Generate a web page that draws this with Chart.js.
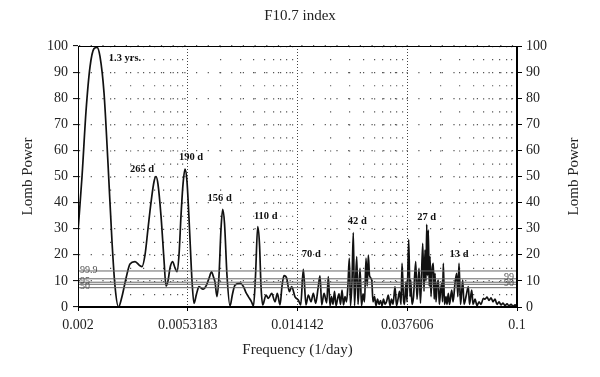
<!DOCTYPE html>
<html>
<head>
<meta charset="utf-8">
<script src="https://cdn.jsdelivr.net/npm/chart.js@4.4.0/dist/chart.umd.min.js"></script>
<style>
  html, body { margin: 0; padding: 0; background: #fff; }
</style>
</head>
<body>
<canvas id="chart" width="600" height="377"></canvas>
<script>
// frequency (1/day) and Lomb power
const freq = [
  0.002, 0.002073, 0.002148, 0.002226, 0.002306, 0.002369, 0.002433, 0.002522, 0.002613, 0.002708,
  0.002781, 0.002869, 0.002960, 0.003068, 0.003179, 0.003324, 0.003475, 0.003538, 0.003634, 0.003732,
  0.003833, 0.003937, 0.004008, 0.004080, 0.004190, 0.004304, 0.004382, 0.004460, 0.004541, 0.004643,
  0.004748, 0.004833, 0.004920, 0.005008, 0.005098, 0.005190, 0.005283, 0.005402, 0.005524, 0.005623,
  0.005750, 0.005879, 0.006093, 0.006286, 0.006428, 0.006572, 0.006690, 0.006781, 0.006902, 0.007026,
  0.007153, 0.007262, 0.007380, 0.007546, 0.007750, 0.007925, 0.008103, 0.008473, 0.008741, 0.008938,
  0.009139, 0.009387, 0.009556, 0.009728, 0.009920, 0.010081, 0.010216, 0.010372, 0.010681, 0.010903,
  0.011238, 0.011574, 0.011813, 0.012101, 0.012319, 0.012540, 0.012846, 0.013147, 0.013431, 0.013832,
  0.014245, 0.014552, 0.014894, 0.015256, 0.015572, 0.015951, 0.016282, 0.016634, 0.016978, 0.017284,
  0.017548, 0.017911, 0.018347, 0.018611, 0.018895, 0.019149, 0.019407, 0.019668, 0.019933, 0.020201,
  0.020473, 0.020748, 0.021028, 0.021310, 0.021597, 0.021888, 0.022183, 0.022441, 0.022682, 0.022987,
  0.023256, 0.023505, 0.023971, 0.024250, 0.024686, 0.025018, 0.025356, 0.025696, 0.026043, 0.026322,
  0.026582, 0.026867, 0.027399, 0.027718, 0.028092, 0.028470, 0.028853, 0.029241, 0.029635, 0.030033,
  0.030438, 0.030847, 0.031262, 0.031768, 0.032253, 0.032687, 0.033127, 0.033722, 0.034177, 0.034636,
  0.035103, 0.035574, 0.035893, 0.036376, 0.036701, 0.037195, 0.037527, 0.038100, 0.038546, 0.038786,
  0.039238, 0.039767, 0.040554, 0.041026, 0.041763, 0.042327, 0.043164, 0.043667, 0.044058, 0.044452,
  0.044730, 0.045051, 0.045373, 0.045738, 0.046065, 0.046477, 0.046893, 0.047441, 0.047822, 0.048165,
  0.048595, 0.049030, 0.049602, 0.050046, 0.050584, 0.051128, 0.051493, 0.051862, 0.052418, 0.053125,
  0.053600, 0.054226, 0.054809, 0.055894, 0.056545, 0.057562, 0.058441, 0.059016, 0.059650, 0.060454,
  0.060995, 0.061649, 0.062368, 0.063490, 0.064806, 0.065502, 0.066799, 0.067577, 0.068792, 0.070029,
  0.071288, 0.072570, 0.074073, 0.075204, 0.076556, 0.077933, 0.079334, 0.080761, 0.082213, 0.083693,
  0.085196, 0.086728, 0.088287, 0.089876, 0.091492, 0.093137, 0.094812, 0.096517, 0.098253, 0.1
];
const power = [
  29, 50, 75, 92, 99, 99.5, 96, 82, 55, 25,
  8, 0, 4, 11, 16.5, 17.4, 15.8, 15.5, 20, 30,
  40, 48, 50, 47, 35, 18, 8, 10, 15, 17.4,
  15, 13.5, 20, 35, 47, 52.8, 48, 30, 10, 1.4,
  5, 7.8, 6.8, 8.4, 11, 13.5, 11.5, 9.5, 4, 12,
  30, 37.4, 32, 12, 0.4, 5, 8.4, 9.1, 7.8, 5.5,
  3.9, 2, 0.4, 12, 30.8, 24, 8, 0.8, 4.6, 3.3,
  5.2, 2, 5.2, 0.8, 8, 12, 11, 5.9, 7.8, 3.9,
  2.7, 0.8, 14.4, 0.8, 4.6, 2, 5.2, 1.4, 7, 11.9,
  0.8, 5.2, 1.6, 11.6, 0.5, 4, 1, 6, 0.5, 3,
  5, 1, 6.5, 0.8, 4, 2, 9, 18.7, 0.5, 10,
  28.5, 0.5, 19.3, 1, 14.8, 0.5, 5, 2, 18.7, 8,
  19.9, 12, 10.3, 2, 4, 0.5, 3, 1, 2.5, 0.5,
  3, 1, 2, 4.6, 0.5, 3, 1, 7.8, 0.5, 3,
  6, 1, 16.7, 3, 1, 9.7, 2, 25.9, 4, 10.3,
  1, 4, 17.4, 3, 14.8, 1.5, 24.4, 6, 21.8, 10,
  31.7, 12, 29.5, 8, 19.3, 4, 14, 16.7, 3, 12.9,
  2, 8, 10.3, 1, 6, 9.1, 2, 16.7, 1, 4,
  1, 5.2, 1, 6.5, 2, 9.1, 12.9, 4, 16.7, 1,
  5, 10.3, 1, 4, 7.8, 1, 6.5, 1, 3, 0.5,
  2, 1, 3.3, 3, 3.8, 2.5, 3.5, 2, 3, 1,
  2, 0.8, 1.5, 0.5, 1.2, 0.4, 1, 0.3, 0.8, 0.2
];

const xMajor = [0.002, 0.0053183, 0.014142, 0.037606, 0.1];
const xTickLabels = ['0.002', '0.0053183', '0.014142', '0.037606', '0.1'];

// significance levels (%) and their power thresholds
const sigLevel = [13.8, 10.8, 9.5, 8.7, 7.4];
const sigText = ['99.9', '99', '95', '90', '50'];
const sigSide = ['left', 'right', 'left', 'right', 'left'];

// labelled peaks
const peakText = ['1.3 yrs.', '265 d', '190 d', '156 d', '110 d', '70 d', '42 d', '27 d', '13 d'];
const peakFreq = [0.002369, 0.004008, 0.005190, 0.007262, 0.009920, 0.014894, 0.023256, 0.044730, 0.059650];
const peakPower = [99.5, 50, 52.8, 37.4, 30.8, 14.4, 28.5, 31.7, 16.7];

const FONT = "'Liberation Serif', 'DejaVu Serif', serif";
const labelShift = [[28, 11], [-14, -7], [6, -12], [-3, -11], [8, -10], [8, -15], [4, -11], [0, -7], [0, -9]];

const extras = {
    id: 'extras',
    afterDatasetsDraw(chart) {
        const {ctx, chartArea: a, scales: {x, y}} = chart;
        ctx.save();

        ctx.font = `10px ${FONT}`;
        ctx.fillStyle = '#555';
        ctx.textBaseline = 'middle';
        sigLevel.forEach((v, i) => {
            const py = y.getPixelForValue(v) - 1;
            if (sigSide[i] === 'left') {
                ctx.textAlign = 'left';
                ctx.fillText(sigText[i], a.left + 2, py);
            } else {
                ctx.textAlign = 'right';
                ctx.fillText(sigText[i], a.right - 3, py);
            }
        });

        ctx.font = `bold 10.5px ${FONT}`;
        ctx.fillStyle = '#111';
        ctx.textAlign = 'center';
        peakText.forEach((t, i) => {
            const [dx, dy] = labelShift[i];
            ctx.fillText(t, x.getPixelForValue(peakFreq[i]) + dx, y.getPixelForValue(peakPower[i]) + dy);
        });

        // plot frame
        ctx.strokeStyle = '#000';
        ctx.lineWidth = 1;
        ctx.strokeRect(Math.round(a.left) + 0.5, Math.round(a.top) + 0.5,
            Math.round(a.right - a.left) - 1, Math.round(a.bottom - a.top) - 1);

        // right axis title
        ctx.translate(chart.width - 26, (a.top + a.bottom) / 2);
        ctx.rotate(-Math.PI / 2);
        ctx.font = `15px ${FONT}`;
        ctx.fillStyle = '#222';
        ctx.textAlign = 'center';
        ctx.fillText('Lomb Power', 0, 0);
        ctx.restore();
    }
};

const sigSets = sigLevel.map(v => ({
    data: [{x: xMajor[0], y: v}, {x: xMajor[xMajor.length - 1], y: v}],
    borderColor: '#666',
    borderWidth: 1,
    pointRadius: 0,
    xAxisID: 'x',
    yAxisID: 'y'
}));

new Chart(document.getElementById('chart').getContext('2d'), {
    type: 'line',
    data: {
        datasets: [
            ...sigSets,
            {
                data: freq.map((f, i) => ({x: f, y: power[i]})),
                borderColor: '#111',
                borderWidth: 1.7,
                pointRadius: 0,
                cubicInterpolationMode: 'monotone',
                xAxisID: 'x',
                yAxisID: 'y'
            }
        ]
    },
    options: {
        responsive: false,
        animation: false,
        layout: {padding: 0},
        plugins: {
            legend: {display: false},
            tooltip: {enabled: false},
            title: {
                display: true,
                text: 'F10.7 index',
                color: '#222',
                font: {family: FONT, size: 15, weight: 'normal', lineHeight: 1.2},
                padding: {top: 7, bottom: 21}
            }
        },
        scales: {
            x: {
                type: 'logarithmic',
                position: 'bottom',
                min: 0.002,
                max: 0.1,
                afterBuildTicks: s => { s.ticks = xMajor.map(v => ({value: v})); },
                afterFit: s => { s.height = 70; },
                ticks: {
                    autoSkip: false,
                    maxRotation: 0,
                    padding: 6,
                    color: '#222',
                    font: {family: FONT, size: 14},
                    callback: (v, i) => xTickLabels[i]
                },
                grid: {color: '#444', lineWidth: 1, tickLength: 4, tickColor: '#000'},
                border: {display: true, color: '#000', dash: [1, 2]},
                title: {
                    display: true,
                    text: 'Frequency (1/day)',
                    color: '#222',
                    font: {family: FONT, size: 15, lineHeight: 1.2},
                    padding: {top: 0, bottom: 18}
                }
            },
            xMinor: {
                type: 'logarithmic',
                position: 'top',
                min: 0.002,
                max: 0.1,
                afterBuildTicks: s => {
                    const t = [];
                    for (let i = 0; i < xMajor.length - 1; i++) {
                        const r = xMajor[i + 1] / xMajor[i];
                        for (let k = 2; k <= 9; k++) t.push({value: xMajor[i] * Math.pow(r, Math.log10(k))});
                    }
                    s.ticks = t;
                },
                afterFit: s => { s.height = 0; },
                ticks: {display: false},
                grid: {color: '#555', lineWidth: 1.2, drawTicks: false},
                border: {display: false, dash: [1.2, 11.85]}
            },
            y: {
                position: 'left',
                min: 0,
                max: 100,
                afterFit: s => { s.width = 78; },
                ticks: {stepSize: 10, padding: 5, color: '#222', font: {family: FONT, size: 14}},
                grid: {color: '#555', lineWidth: 1.2, tickLength: 5, tickColor: '#000', tickWidth: 1},
                border: {display: true, color: '#000', dash: [1.2, 10.5]},
                title: {
                    display: true,
                    text: 'Lomb Power',
                    color: '#222',
                    font: {family: FONT, size: 15, lineHeight: 1.2},
                    padding: {top: 19, bottom: 0}
                }
            },
            y2: {
                position: 'right',
                min: 0,
                max: 100,
                afterFit: s => { s.width = 83; },
                ticks: {stepSize: 10, padding: 4, color: '#222', font: {family: FONT, size: 14}},
                grid: {drawOnChartArea: false, tickLength: 5, tickColor: '#000'},
                border: {display: true, color: '#000'}
            }
        }
    },
    plugins: [extras]
});
</script>
</body>
</html>
